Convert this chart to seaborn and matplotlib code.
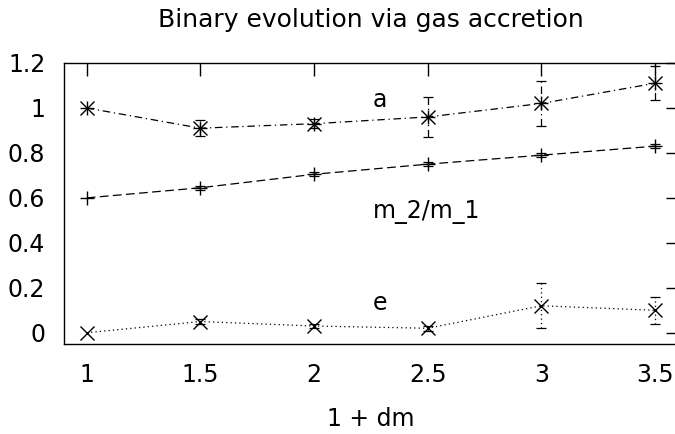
import matplotlib
matplotlib.use('Agg')
import matplotlib.pyplot as plt
import numpy as np
import pandas as pd
import seaborn as sns

# values
dm = [1, 1.5, 2, 2.5, 3, 3.5]
a_vals = [1.0, 0.91, 0.93, 0.96, 1.02, 1.11]
a_err = [0.0, 0.035, 0.02, 0.09, 0.10, 0.075]
m_vals = [0.60, 0.645, 0.705, 0.75, 0.79, 0.83]
m_err = [0.0, 0.008, 0.008, 0.008, 0.008, 0.01]
e_vals = [0.0, 0.05, 0.03, 0.02, 0.12, 0.10]
e_err = [0.0, 0.01, 0.008, 0.01, 0.10, 0.06]

x_ticks = [1, 1.5, 2, 2.5, 3, 3.5]
x_tick_labels = ['1', '1.5', '2', '2.5', '3', '3.5']
y_ticks = [0, 0.2, 0.4, 0.6, 0.8, 1.0, 1.2]
y_tick_labels = ['0', '0.2', '0.4', '0.6', '0.8', '1', '1.2']

title = 'Binary evolution via gas accretion'
x_label = '1 + dm'

sns.set_style('white')
plt.rcParams['font.family'] = ['DejaVu Sans']
plt.rcParams['axes.linewidth'] = 1.0
for key in ['text.color', 'axes.labelcolor', 'xtick.color', 'ytick.color',
            'axes.edgecolor']:
    plt.rcParams[key] = 'black'

df = pd.DataFrame({'dm': dm, 'a': a_vals, 'a_err': a_err,
                   'm': m_vals, 'm_err': m_err,
                   'e': e_vals, 'e_err': e_err})

fig = plt.figure(figsize=(6.75, 4.34), dpi=100)
ax = fig.add_axes([64 / 675, 90 / 434, 613.7 / 675, 281 / 434])

series = [
    ('a', (0, (6, 3, 1, 3)), ['+', 'x']),
    ('m', (0, (7, 3.5)), ['+']),
    ('e', (0, (1, 2.5)), ['x']),
]

for col, ls, markers in series:
    sns.lineplot(data=df, x='dm', y=col, ax=ax, color='black', lw=0.9,
                 linestyle=ls, marker=None)
    for mk in markers:
        ax.plot(df['dm'], df[col], linestyle='none', marker=mk, ms=9.5,
                mew=1.0, color='black')
    sub = df[df[col + '_err'] > 0]
    eb = ax.errorbar(sub['dm'], sub[col], yerr=sub[col + '_err'], fmt='none',
                     ecolor='black', elinewidth=0.9, capsize=3.5, capthick=0.9)
    for lc in eb[2]:
        lc.set_linestyle(ls)

ax.text(2.26, 1.005, 'a', fontsize=17, ha='left', va='baseline')
ax.text(2.26, 0.51, 'm_2/m_1', fontsize=17, ha='left', va='baseline')
ax.text(2.26, 0.10, 'e', fontsize=17, ha='left', va='baseline')

ax.set_xlim(0.9, 3.6)
ax.set_ylim(-0.05, 1.2)
ax.set_xticks(x_ticks)
ax.set_xticklabels(x_tick_labels)
ax.set_yticks(y_ticks)
ax.set_yticklabels(y_tick_labels)
ax.tick_params(direction='in', length=9, width=1.0, top=True, right=True,
               labelsize=17, color='black', labelcolor='black')
ax.tick_params(axis='x', pad=14)
ax.tick_params(axis='y', pad=13.5)
for sp in ax.spines.values():
    sp.set_color('black')
    sp.set_linewidth(1.0)

ax.set_xlabel(x_label, fontsize=17, labelpad=14, color='black')
ax.set_ylabel('')
ax.set_title(title, fontsize=18, pad=26, color='black')

fig.savefig('out.png', dpi=100)
